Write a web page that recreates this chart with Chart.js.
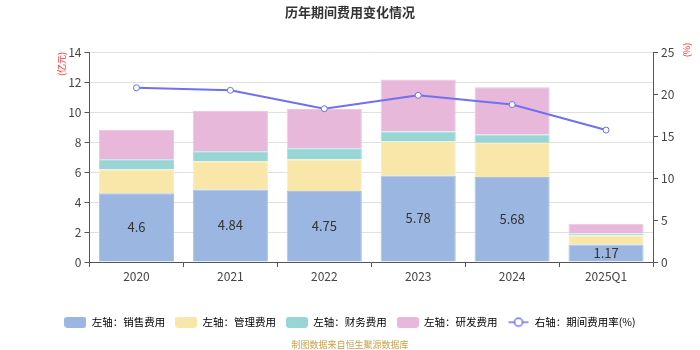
<!DOCTYPE html>
<html>
<head>
<meta charset="utf-8">
<script src="https://cdn.jsdelivr.net/npm/chart.js@4/dist/chart.umd.min.js"></script>
<style>
  html, body { margin: 0; padding: 0; background: #fff; }
  #wrap { width: 700px; height: 350px; }
</style>
</head>
<body>
<div id="wrap"><canvas id="myChart"></canvas></div>
<script>
'use strict';

// categories and values (亿元 on the left axis, % on the right axis)
const years = ['2020', '2021', '2022', '2023', '2024', '2025Q1'];
const salesCost = [4.6, 4.84, 4.75, 5.78, 5.68, 1.17]; //     销售费用
const adminCost = [1.59, 1.89, 2.10, 2.27, 2.29, 0.61]; //    管理费用
const financeCost = [0.68, 0.67, 0.75, 0.68, 0.56, 0.13]; //  财务费用
const rdCost = [1.95, 2.69, 2.63, 3.47, 3.16, 0.65]; //       研发费用
const expenseRate = [20.8, 20.5, 18.3, 19.9, 18.8, 15.75]; // 期间费用率(%)

// axis ranges
const leftMax = 14;
const leftStep = 2;
const rightMax = 25;
const rightStep = 5;

// legend texts
const legendNames = ['左轴：销售费用', '左轴：管理费用', '左轴：财务费用', '左轴：研发费用', '右轴：期间费用率(%)'];

const barColors = ['#9bb7e1', '#f8e7a8', '#98d5d5', '#e7b8d9'];
const barBorders = ['#a9c2e6', '#faedbb', '#a8dcdc', '#edc6e1'];
const lineColor = '#6f70f2';
const fontFamily = '"Noto Sans CJK SC", "Noto Sans", sans-serif';

Chart.defaults.font.family = fontFamily;

// small canvases used as legend symbols
function boxIcon(color){
  const c = document.createElement('canvas');
  c.width = 22; c.height = 11;
  const g = c.getContext('2d');
  g.fillStyle = color;
  g.beginPath();
  g.roundRect(0, 0, 22, 11, 3);
  g.fill();
  return c;
}
function lineIcon(color){
  const c = document.createElement('canvas');
  c.width = 22; c.height = 12;
  const g = c.getContext('2d');
  g.strokeStyle = color;
  g.lineWidth = 1.5;
  g.beginPath();
  g.moveTo(1, 6); g.lineTo(21, 6);
  g.stroke();
  g.fillStyle = '#fff';
  g.beginPath();
  g.arc(11, 6, 4, 0, Math.PI * 2);
  g.fill();
  g.stroke();
  return c;
}
const legendIcons = barColors.map(boxIcon).concat([lineIcon(lineColor)]);

// value labels inside the sales bars
const barLabels = {
  id: 'barLabels',
  afterDatasetsDraw(chart){
    const ctx = chart.ctx;
    const meta = chart.getDatasetMeta(0);
    ctx.save();
    ctx.font = '13px ' + fontFamily;
    ctx.fillStyle = '#333';
    ctx.textAlign = 'center';
    ctx.textBaseline = 'middle';
    meta.data.forEach((bar, i) => {
      ctx.fillText(String(salesCost[i]), bar.x, (bar.y + bar.base) / 2);
    });
    ctx.restore();
  }
};

// red unit names next to the axes
const unitLabels = {
  id: 'unitLabels',
  afterDraw(chart){
    const ctx = chart.ctx;
    ctx.save();
    ctx.font = '9px ' + fontFamily;
    ctx.fillStyle = '#ff3333';
    ctx.textAlign = 'center';
    ctx.textBaseline = 'middle';
    ctx.translate(62, 64);
    ctx.rotate(-Math.PI / 2);
    ctx.fillText('(亿元)', 0, 0);
    ctx.restore();
    ctx.save();
    ctx.font = '9px ' + fontFamily;
    ctx.fillStyle = '#ff3333';
    ctx.textAlign = 'center';
    ctx.textBaseline = 'middle';
    ctx.translate(687, 50);
    ctx.rotate(-Math.PI / 2);
    ctx.fillText('(%)', 0, 0);
    ctx.restore();
  }
};

function barSet(label, data, i){
  return {
    type: 'bar',
    label: label,
    data: data,
    backgroundColor: barColors[i],
    borderColor: barBorders[i],
    borderWidth: 1,
    stack: 'cost',
    yAxisID: 'y',
    order: 1,
    barPercentage: 0.8,
    categoryPercentage: 1
  };
}

const ctx = document.getElementById('myChart').getContext('2d');
const chart = new Chart(ctx, {
  data: {
    labels: years,
    datasets: [
      barSet(legendNames[0], salesCost, 0),
      barSet(legendNames[1], adminCost, 1),
      barSet(legendNames[2], financeCost, 2),
      barSet(legendNames[3], rdCost, 3),
      {
        type: 'line',
        label: legendNames[4],
        data: expenseRate,
        yAxisID: 'y1',
        borderColor: lineColor,
        borderWidth: 2,
        pointRadius: 3,
        pointBorderWidth: 1,
        pointBackgroundColor: '#fff',
        pointBorderColor: lineColor,
        tension: 0,
        order: 0
      }
    ]
  },
  options: {
    responsive: true,
    maintainAspectRatio: false,
    animation: false,
    layout: { padding: 0 },
    scales: {
      x: {
        stacked: true,
        grid: { display: true, drawOnChartArea: false, offset: true, tickLength: 5, tickColor: '#555' },
        border: { display: true, color: '#555' },
        ticks: { color: '#444', font: { size: 12 }, padding: 2 },
        afterFit(scale){ scale.height = 45; }
      },
      y: {
        stacked: true,
        position: 'left',
        min: 0,
        max: leftMax,
        grid: { color: '#e0e0e0', tickLength: 5, tickColor: '#555' },
        border: { display: true, color: '#555' },
        ticks: { stepSize: leftStep, color: '#444', font: { size: 12 }, padding: 3 },
        afterFit(scale){ scale.width = 89.5; }
      },
      y1: {
        position: 'right',
        min: 0,
        max: rightMax,
        grid: { drawOnChartArea: false, tickLength: 5, tickColor: '#555' },
        border: { display: true, color: '#555' },
        ticks: { stepSize: rightStep, color: '#444', font: { size: 12 }, padding: 3 },
        afterFit(scale){ scale.width = 47; }
      }
    },
    plugins: {
      tooltip: { enabled: false },
      title: {
        display: true,
        text: '历年期间费用变化情况',
        color: '#333',
        font: { size: 13, weight: 'bold' },
        padding: { top: 4, bottom: 33 }
      },
      subtitle: {
        display: true,
        position: 'bottom',
        text: '制图数据来自恒生聚源数据库',
        color: '#c9a04a',
        font: { size: 9 },
        padding: { top: 1.7, bottom: 0 }
      },
      legend: {
        position: 'bottom',
        labels: {
          usePointStyle: true,
          pointStyleWidth: 22,
          boxHeight: 11,
          padding: 10,
          color: '#333',
          font: { size: 10.5 },
          generateLabels: () => legendNames.map((name, i) => ({
            text: name,
            pointStyle: legendIcons[i],
            fillStyle: i < 4 ? barColors[i] : '#fff',
            strokeStyle: 'transparent',
            lineWidth: 0,
            hidden: false,
            datasetIndex: i
          }))
        }
      }
    }
  },
  plugins: [barLabels, unitLabels]
});
</script>
</body>
</html>
